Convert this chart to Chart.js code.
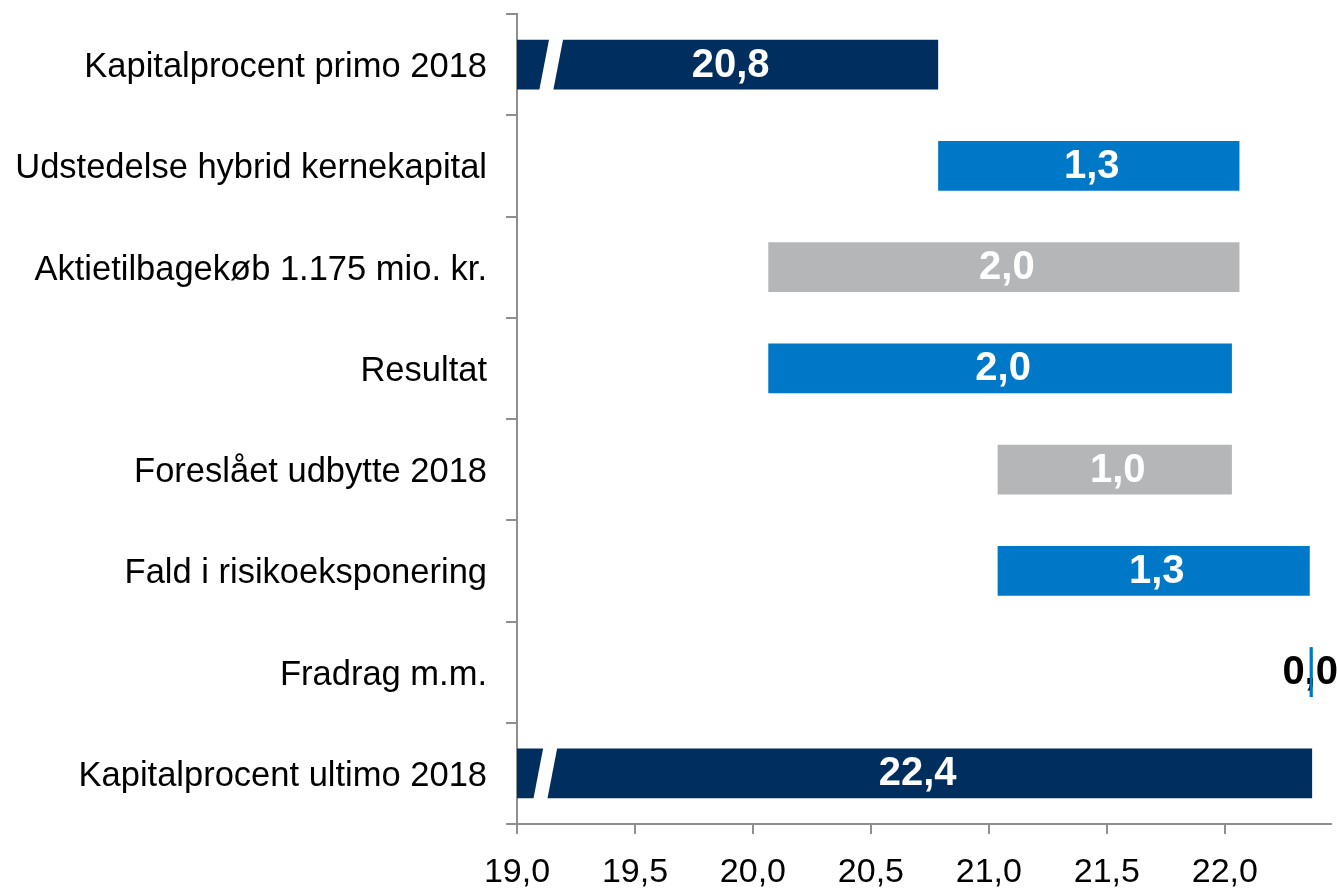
<!DOCTYPE html>
<html>
<head>
<meta charset="utf-8">
<script src="https://cdn.jsdelivr.net/npm/chart.js@4/dist/chart.umd.min.js"></script>
<style>
  html, body { margin: 0; padding: 0; background: #ffffff; }
  #wrap { width: 1337px; height: 888px; }
</style>
</head>
<body>
<div id="wrap"><canvas id="c" width="1337" height="888"></canvas></div>
<script>
const categories = [
  'Kapitalprocent primo 2018',
  'Udstedelse hybrid kernekapital',
  'Aktietilbagekøb 1.175 mio. kr.',
  'Resultat',
  'Foreslået udbytte 2018',
  'Fald i risikoeksponering',
  'Fradrag m.m.',
  'Kapitalprocent ultimo 2018'
];
const barStart = [19.0, 20.785, 20.065, 20.065, 21.037, 21.037, 22.360, 19.0];
const barEnd   = [20.785, 22.062, 22.062, 22.030, 22.030, 22.360, 22.372, 22.370];
const valueLabels = ['20,8', '1,3', '2,0', '2,0', '1,0', '1,3', '0,0', '22,4'];
const xTickValues = [19.0, 19.5, 20.0, 20.5, 21.0, 21.5, 22.0];
const axisMin = 19.0;
const axisMax = 22.45;
const breakAt = {0: 19.145, 7: 19.12};

const NAVY = '#002F5F', BLUE = '#0078C8', GRAY = '#B5B6B8';
const barColors = [NAVY, BLUE, GRAY, BLUE, GRAY, BLUE, BLUE, NAVY];
const labelColors = ['#fff', '#fff', '#fff', '#fff', '#fff', '#fff', '#000', '#fff'];
const FONT = '"Liberation Sans", Arial, Helvetica, sans-serif';

const labelPlugin = {
  id: 'barLabels',
  afterDatasetsDraw(chart) {
    const ctx = chart.ctx;
    const meta = chart.getDatasetMeta(0);
    const xs = chart.scales.x;
    ctx.save();
    // break marks
    Object.keys(breakAt).forEach(k => {
      const bar = meta.data[+k];
      const p = bar.getProps(['x', 'y', 'base', 'height'], true);
      const top = p.y - p.height / 2, bot = p.y + p.height / 2;
      const cx = xs.getPixelForValue(breakAt[k]);
      const w = 14, slant = 5;
      ctx.fillStyle = '#ffffff';
      ctx.beginPath();
      ctx.moveTo(cx - w / 2 + slant, top - 1);
      ctx.lineTo(cx + w / 2 + slant, top - 1);
      ctx.lineTo(cx + w / 2 - slant, bot + 1);
      ctx.lineTo(cx - w / 2 - slant, bot + 1);
      ctx.closePath();
      ctx.fill();
    });
    // value labels
    ctx.font = 'bold 40px ' + FONT;
    ctx.textAlign = 'center';
    ctx.textBaseline = 'middle';
    meta.data.forEach((bar, i) => {
      const c = bar.getCenterPoint();
      ctx.fillStyle = labelColors[i];
      const dx = (i === 6) ? -1 : 3;
      ctx.fillText(valueLabels[i], c.x + dx, c.y + 1);
    });
    // redraw thin fradrag bar on top of its label
    const fb = meta.data[6];
    const fp = fb.getProps(['x', 'y', 'base', 'height'], true);
    ctx.fillStyle = BLUE;
    ctx.fillRect(Math.min(fp.x, fp.base), fp.y - fp.height / 2, Math.max(Math.abs(fp.x - fp.base), 2.5), fp.height);
    ctx.restore();
  }
};

new Chart(document.getElementById('c'), {
  type: 'bar',
  data: {
    labels: categories,
    datasets: [{
      data: categories.map((_, i) => [barStart[i], barEnd[i]]),
      backgroundColor: barColors,
      borderWidth: 0,
      barPercentage: 0.49,
      categoryPercentage: 1.0
    }]
  },
  options: {
    indexAxis: 'y',
    responsive: false,
    animation: false,
    devicePixelRatio: 1,
    layout: { padding: { top: 14, right: 6, left: 0, bottom: 0 } },
    plugins: { legend: { display: false }, tooltip: { enabled: false } },
    scales: {
      x: {
        min: axisMin,
        max: axisMax,
        afterBuildTicks: s => { s.ticks = xTickValues.map(v => ({ value: v })); },
        afterFit: s => { s.height = 64; },
        border: { display: true, color: '#8F8F8F', width: 2 },
        grid: { drawOnChartArea: false, drawTicks: true, tickLength: 10, color: '#8F8F8F', lineWidth: 2 },
        ticks: {
          color: '#000',
          font: { family: FONT, size: 34 },
          padding: 18,
          maxRotation: 0,
          autoSkip: false,
          callback: v => Number(v).toFixed(1).replace('.', ',')
        }
      },
      y: {
        afterFit: s => { s.width = 517; s.paddingTop = 0; s.paddingBottom = 0; },
        border: { display: true, color: '#8F8F8F', width: 2 },
        grid: { drawOnChartArea: false, drawTicks: true, tickLength: 11, color: '#8F8F8F', lineWidth: 2, offset: true },
        ticks: {
          color: '#000',
          font: { family: FONT, size: 34.5 },
          padding: 19,
          labelOffset: 3,
          autoSkip: false
        }
      }
    }
  },
  plugins: [labelPlugin]
});
</script>
</body>
</html>
